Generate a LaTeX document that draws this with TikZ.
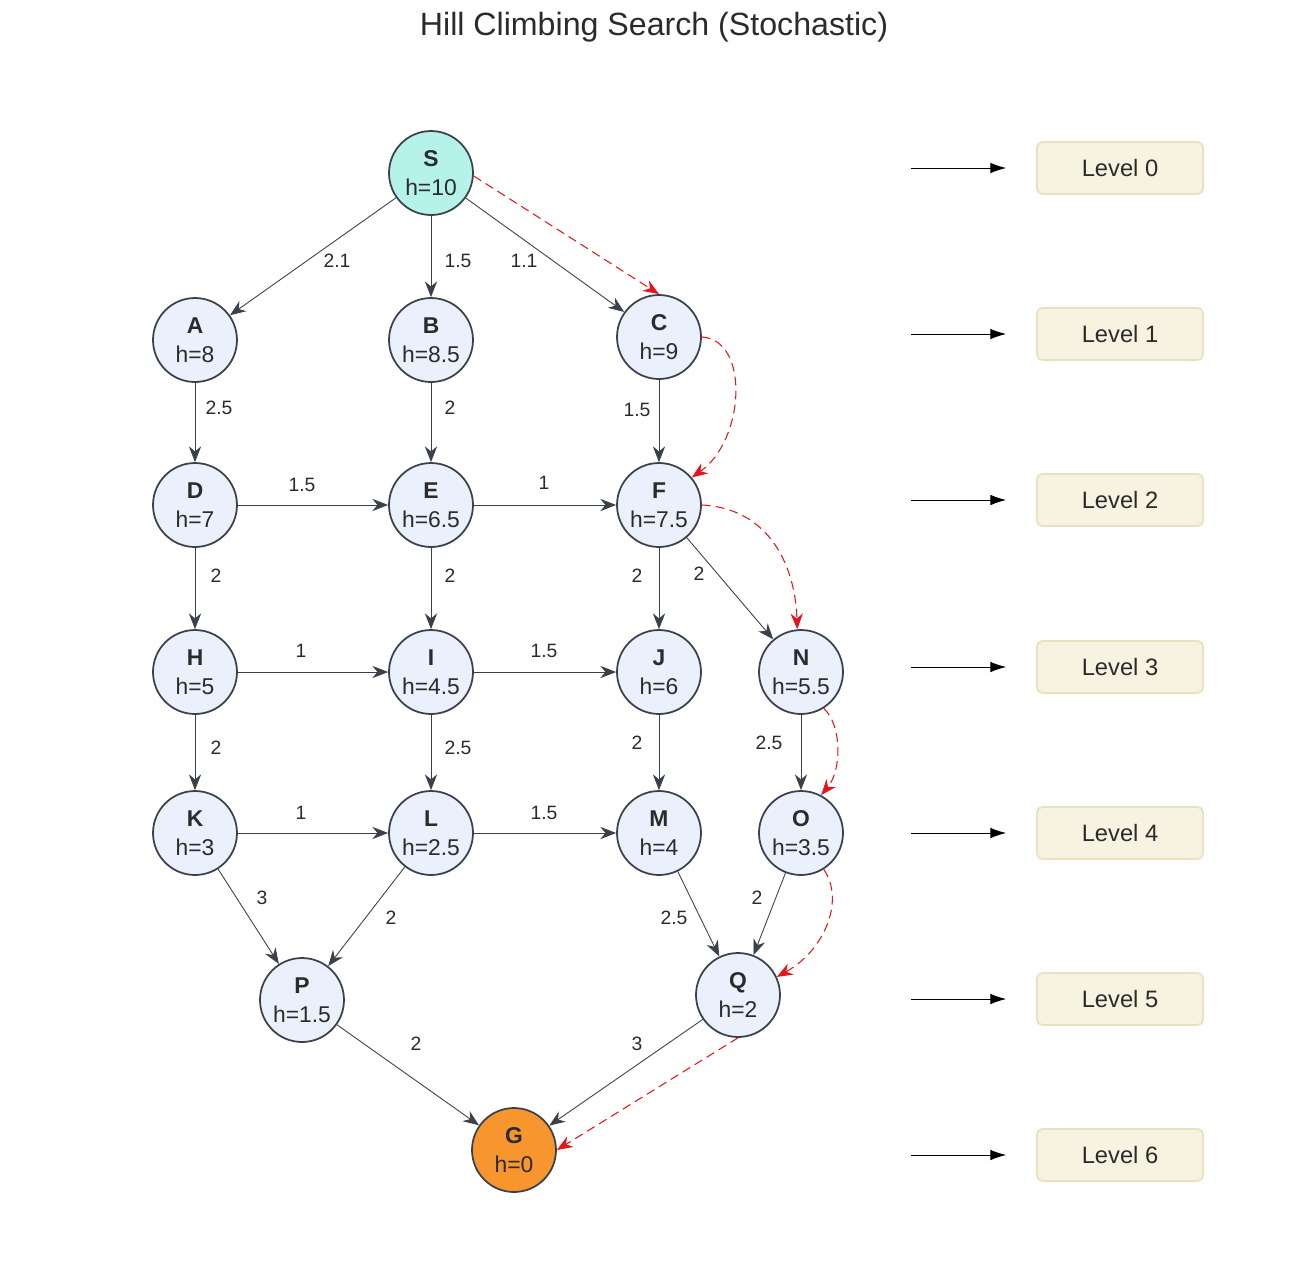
\documentclass[tikz,border=0pt]{standalone}
\usepackage{fontspec}
\setmainfont{Liberation Sans}
\usetikzlibrary{arrows.meta,positioning,calc}
\definecolor{nodefill}{HTML}{EAF1FD}
\definecolor{startfill}{HTML}{B5F2EA}
\definecolor{goalfill}{HTML}{F7962F}
\definecolor{nodeline}{HTML}{3A414A}
\definecolor{levelfill}{HTML}{F7F3E1}
\definecolor{levelline}{HTML}{E9E1C0}
\definecolor{pathred}{HTML}{E8141B}
\definecolor{textgray}{HTML}{2B2B2B}

\begin{document}
\begin{tikzpicture}[
    x=0.02cm, y=-0.02cm,
    every node/.style={font=\fontsize{13}{15}\selectfont, text=textgray},
    state/.style={circle, draw=nodeline, line width=1pt, fill=nodefill, minimum size=1.68cm, inner sep=0pt, align=center},
    start/.style={state, fill=startfill},
    goal/.style={state, fill=goalfill},
    level/.style={rectangle, draw=levelline, line width=1pt, fill=levelfill, rounded corners=3pt, minimum width=3.32cm, minimum height=1.04cm, font=\fontsize{13.5}{16}\selectfont},
    arrow/.style={-{Stealth[length=9pt, width=7pt]}, nodeline, line width=0.5pt},
    chosen/.style={-{Stealth[length=9pt, width=7pt]}, pathred, line width=0.6pt, dash pattern=on 5pt off 3pt},
    lvarrow/.style={-{Latex[length=9pt, width=6pt]}, black, line width=0.5pt},
    label/.style={font=\fontsize{11}{13}\selectfont}
]
\useasboundingbox (0,0) rectangle (1316,1276);

% Title
\node[font=\fontsize{18.3}{22}\selectfont] (title) at (654,27) {Hill Climbing Search (Stochastic)};

% Nodes
\node[start] (S) at (431,173) {\textbf{S}\\[1.5pt]h=10};
\node[state] (A) at (195,340) {\textbf{A}\\[1.5pt]h=8};
\node[state] (B) at (431,340) {\textbf{B}\\[1.5pt]h=8.5};
\node[state] (C) at (659,337) {\textbf{C}\\[1.5pt]h=9};
\node[state] (D) at (195,505) {\textbf{D}\\[1.5pt]h=7};
\node[state] (E) at (431,505) {\textbf{E}\\[1.5pt]h=6.5};
\node[state] (F) at (659,505) {\textbf{F}\\[1.5pt]h=7.5};
\node[state] (H) at (195,672) {\textbf{H}\\[1.5pt]h=5};
\node[state] (I) at (431,672) {\textbf{I}\\[1.5pt]h=4.5};
\node[state] (J) at (659,672) {\textbf{J}\\[1.5pt]h=6};
\node[state] (N) at (801,672) {\textbf{N}\\[1.5pt]h=5.5};
\node[state] (K) at (195,833) {\textbf{K}\\[1.5pt]h=3};
\node[state] (L) at (431,833) {\textbf{L}\\[1.5pt]h=2.5};
\node[state] (M) at (659,833) {\textbf{M}\\[1.5pt]h=4};
\node[state] (O) at (801,833) {\textbf{O}\\[1.5pt]h=3.5};
\node[state] (P) at (302,1000) {\textbf{P}\\[1.5pt]h=1.5};
\node[state] (Q) at (738,995) {\textbf{Q}\\[1.5pt]h=2};
\node[goal] (G) at (514,1150) {\textbf{G}\\[1.5pt]h=0};

% Edges
\draw[arrow] (S) -- (A);
\draw[arrow] (S) -- (B);
\draw[arrow] (S) -- (C);
\draw[arrow] (A) -- (D);
\draw[arrow] (B) -- (E);
\draw[arrow] (C) -- (F);
\draw[arrow] (D) -- (E);
\draw[arrow] (E) -- (F);
\draw[arrow] (D) -- (H);
\draw[arrow] (E) -- (I);
\draw[arrow] (F) -- (J);
\draw[arrow] (F) -- (N);
\draw[arrow] (H) -- (I);
\draw[arrow] (I) -- (J);
\draw[arrow] (H) -- (K);
\draw[arrow] (I) -- (L);
\draw[arrow] (J) -- (M);
\draw[arrow] (N) -- (O);
\draw[arrow] (K) -- (L);
\draw[arrow] (L) -- (M);
\draw[arrow] (K) -- (P);
\draw[arrow] (L) -- (P);
\draw[arrow] (M) -- (Q);
\draw[arrow] (O) -- (Q);
\draw[arrow] (P) -- (G);
\draw[arrow] (Q) -- (G);

% Edge costs
\node[label] (cSA) at (337,261) {2.1};
\node[label] (cSB) at (458,261) {1.5};
\node[label] (cSC) at (524,261) {1.1};
\node[label] (cAD) at (219,408) {2.5};
\node[label] (cBE) at (450,408) {2};
\node[label] (cCF) at (637,410) {1.5};
\node[label] (cDE) at (302,485) {1.5};
\node[label] (cEF) at (544,483) {1};
\node[label] (cDH) at (216,576) {2};
\node[label] (cEI) at (450,576) {2};
\node[label] (cFJ) at (637,576) {2};
\node[label] (cFN) at (699,574) {2};
\node[label] (cHI) at (301,651) {1};
\node[label] (cIJ) at (544,651) {1.5};
\node[label] (cHK) at (216,748) {2};
\node[label] (cIL) at (458,748) {2.5};
\node[label] (cJM) at (637,743) {2};
\node[label] (cNO) at (769,743) {2.5};
\node[label] (cKL) at (301,813) {1};
\node[label] (cLM) at (544,813) {1.5};
\node[label] (cKP) at (262,898) {3};
\node[label] (cLP) at (391,918) {2};
\node[label] (cMQ) at (674,918) {2.5};
\node[label] (cOQ) at (757,898) {2};
\node[label] (cPG) at (416,1044) {2};
\node[label] (cQG) at (637,1044) {3};

% Chosen path (red dashed)
\draw[chosen] (S.-4) -- (C.north);
\draw[chosen] (C.east) .. controls (750,340) and (745,440) .. (F.40);
\draw[chosen] (F.east) .. controls (765,508) and (795,560) .. (N.95);
\draw[chosen] (N.-58) .. controls (842,725) and (842,770) .. (O.62);
\draw[chosen] (O.-58) .. controls (845,900) and (825,950) .. (Q.25);
\draw[chosen] (Q.-90) -- (G.east);

% Levels
\node[level] (L0) at (1120,168) {Level 0};
\node[level] (L1) at (1120,334) {Level 1};
\node[level] (L2) at (1120,500) {Level 2};
\node[level] (L3) at (1120,667) {Level 3};
\node[level] (L4) at (1120,833) {Level 4};
\node[level] (L5) at (1120,999) {Level 5};
\node[level] (L6) at (1120,1155) {Level 6};
\foreach \l in {L0,L1,L2,L3,L4,L5,L6}
    \draw[lvarrow] ([xshift=-2.5cm]\l.west) -- ([xshift=-0.6cm]\l.west);

\end{tikzpicture}
\end{document}
